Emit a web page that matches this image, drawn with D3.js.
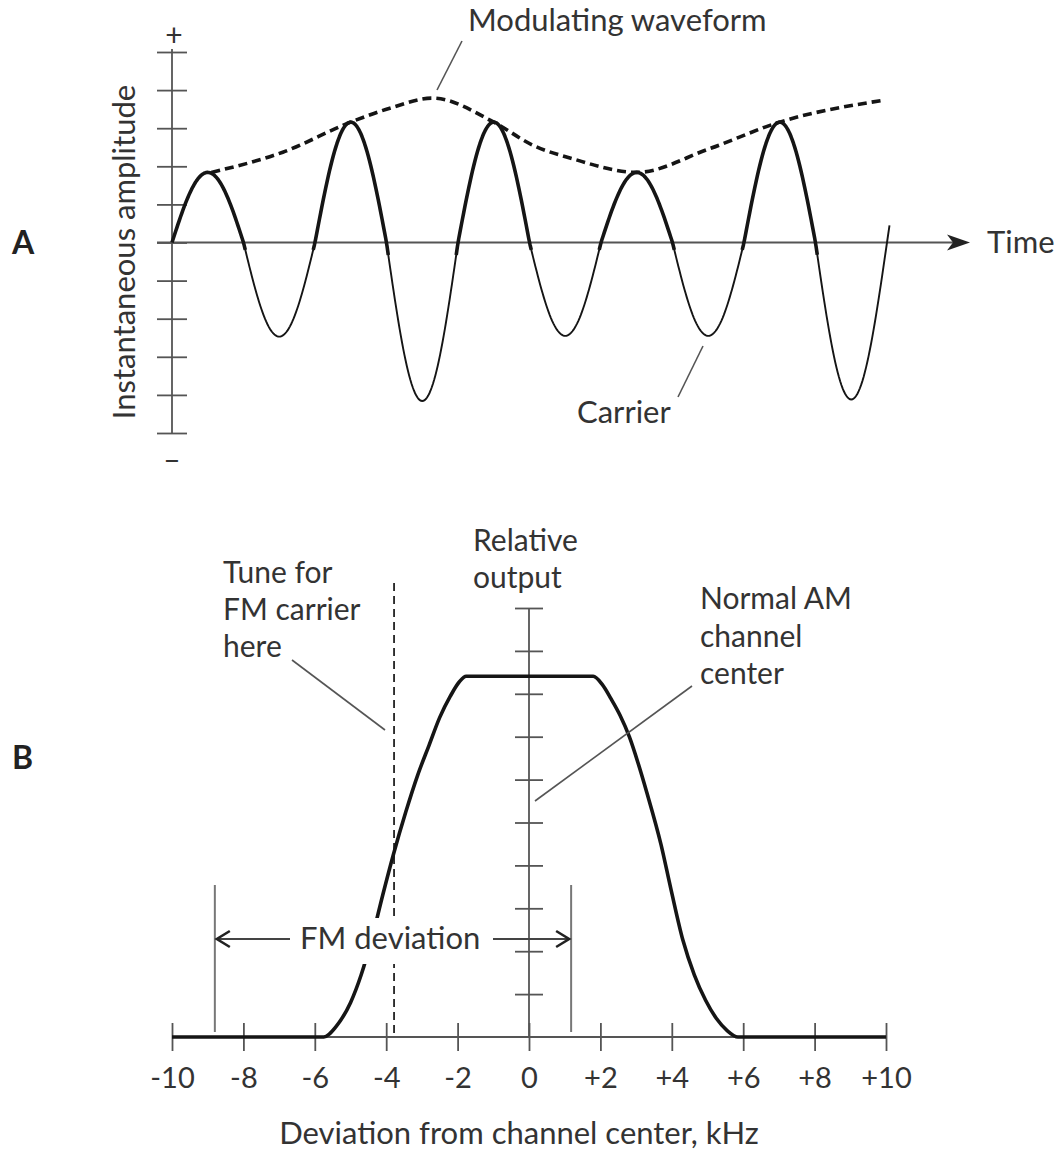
<!DOCTYPE html>
<html>
<head>
<meta charset="utf-8">
<script src="https://cdn.jsdelivr.net/npm/d3@7"></script>
<style>
  body { margin: 0; background: #fff; }
  svg text { font-family: Lato, "Open Sans", sans-serif; fill: #333; }
</style>
</head>
<body>
<svg id="chart" width="1057" height="1152"></svg>
<script>
// ---------------- DATA ----------------
// Panel A: carrier half-cycle amplitudes (in axis tick units), time in half-cycles
const carrierAmps = [1.84, -2.47, 3.16, -4.16, 3.16, -2.45, 1.84, -2.45, 3.16, -4.12];
// Modulating waveform (envelope) read points
const envTime = [0.55, 1.55, 2.5, 3.09, 3.64, 4.5, 5.05, 5.6, 6.5, 7.5, 8.5, 9.97];
const envAmp  = [1.84, 2.37, 3.16, 3.55, 3.79, 3.16, 2.55, 2.2, 1.84, 2.45, 3.16, 3.74];
const ampTicks = [-5, -4, -3, -2, -1, 0, 1, 2, 3, 4, 5];

// Panel B: receiver response vs deviation from channel center (kHz)
const respKHz   = [-10, -5.75, -5.4, -5.0, -4.7, -4.4, -4.1, -3.8, -3.45, -3.12, -2.8, -2.5, -2.2, -1.95, -1.76,
                   1.80, 2.05, 2.30, 2.55, 2.81, 3.05, 3.30, 3.70, 3.98, 4.31, 4.63, 4.95, 5.25, 5.55, 5.85, 10];
const respLevel = [0, 0, 0.25, 0.8, 1.45, 2.3, 3.3, 4.25, 5.25, 6.1, 6.8, 7.45, 7.95, 8.28, 8.41,
                   8.41, 8.22, 7.88, 7.5, 7.0, 6.4, 5.7, 4.48, 3.43, 2.26, 1.45, 0.85, 0.43, 0.15, 0, 0];
const xTickValues = [-10, -8, -6, -4, -2, 0, 2, 4, 6, 8, 10];
const xTickLabels = ["-10", "-8", "-6", "-4", "-2", "0", "+2", "+4", "+6", "+8", "+10"];
const outputTicks = [1, 2, 3, 4, 5, 6, 7, 8, 9, 10];
const tuneKHz = -3.78;
const fmDeviationKHz = [-8.8, 1.18];

// ---------------- DRAW ----------------
const svg = d3.select("#chart");
const AXIS = "#555", INK = "#151515", LEAD = "#555";
const FS = "30px", FS1 = "31px";

// ===== Panel A =====
const xA = d3.scaleLinear().domain([0, 10]).range([172, 887]);
const yA = d3.scaleLinear().domain([-5, 5]).range([433, 52]);
const gA = svg.append("g");

const axA = d3.axisLeft(yA).tickValues(ampTicks).tickSize(15).tickFormat("");
const gAy = gA.append("g").attr("transform", `translate(${xA(0)},0)`).call(axA);
gAy.select(".domain").remove();
gAy.selectAll(".tick line").attr("x1", 15).attr("stroke", AXIS).attr("stroke-width", 1.8);
gA.append("line").attr("x1", xA(0)).attr("x2", xA(0)).attr("y1", yA(5) - 3).attr("y2", yA(-5))
  .attr("stroke", AXIS).attr("stroke-width", 1.8);

// time axis with arrow
gA.append("line").attr("x1", xA(0) - 15).attr("x2", 955).attr("y1", yA(0)).attr("y2", yA(0))
  .attr("stroke", AXIS).attr("stroke-width", 1.8);
gA.append("path").attr("d", `M970,${yA(0)} L947,${yA(0)-8} L953,${yA(0)} L947,${yA(0)+8} Z`).attr("fill", "#222");

// carrier
function carrierAt(t) {
  const i = Math.min(carrierAmps.length - 1, Math.max(0, Math.floor(t)));
  return carrierAmps[i] * Math.sin(Math.PI * (t - i));
}
function samples(t0, t1) {
  const n = 60, pts = [];
  for (let k = 0; k <= n; k++) { const t = t0 + (t1 - t0) * k / n; pts.push([t, carrierAt(t)]); }
  return pts;
}
const lineA = d3.line().x(d => xA(d[0])).y(d => yA(d[1]));
carrierAmps.forEach((a, i) => {
  if (a < 0) {
    const t1 = (i === carrierAmps.length - 1) ? i + 1.035 : i + 1;
    gA.append("path").attr("d", lineA(samples(i, t1))).attr("fill", "none")
      .attr("stroke", INK).attr("stroke-width", 1.9);
  }
});
carrierAmps.forEach((a, i) => {
  if (a > 0) {
    const t0 = i === 0 ? 0 : i - 0.025;
    gA.append("path").attr("d", lineA(samples(t0, i + 1.025))).attr("fill", "none")
      .attr("stroke", INK).attr("stroke-width", 3.6).attr("stroke-linejoin", "round");
  }
});

// modulating waveform
const envLine = d3.line().x((d, i) => xA(envTime[i])).y(d => yA(d)).curve(d3.curveMonotoneX);
gA.append("path").attr("d", envLine(envAmp)).attr("fill", "none").attr("stroke", INK)
  .attr("stroke-width", 3.6).attr("stroke-dasharray", "9,5");

// labels A
gA.append("text").attr("x", 12).attr("y", 254).style("font-size", "32px").style("font-weight", "bold").style("fill", "#222").text("A");
gA.append("text").attr("x", xA(0) + 2).attr("y", 34).attr("text-anchor", "middle").attr("dominant-baseline", "central").style("font-size", "30px").text("+");
gA.append("text").attr("x", xA(0)).attr("y", 458).attr("text-anchor", "middle").attr("dominant-baseline", "central").style("font-size", "30px").text("–");
gA.append("text").attr("transform", "translate(135,252) rotate(-90)").attr("text-anchor", "middle")
  .style("font-size", FS1).text("Instantaneous amplitude");
gA.append("text").attr("x", 468).attr("y", 31).style("font-size", FS1).text("Modulating waveform");
gA.append("line").attr("x1", 462).attr("y1", 41).attr("x2", 437).attr("y2", 90).attr("stroke", LEAD).attr("stroke-width", 1.6);
gA.append("text").attr("x", 987).attr("y", 253).style("font-size", FS1).text("Time");
gA.append("text").attr("x", 577).attr("y", 423).style("font-size", FS1).text("Carrier");
gA.append("line").attr("x1", 703).attr("y1", 346).attr("x2", 678).attr("y2", 397).attr("stroke", LEAD).attr("stroke-width", 1.6);

// ===== Panel B =====
const xB = d3.scaleLinear().domain([-10, 10]).range([172, 886]);
const yB = d3.scaleLinear().domain([0, 10]).range([1037, 608]);
const gB = svg.append("g");

const axBx = d3.axisBottom(xB).tickValues(xTickValues).tickSize(14).tickFormat((d, i) => xTickLabels[i]);
const gBx = gB.append("g").attr("transform", `translate(0,${yB(0)})`).call(axBx);
gBx.select(".domain").remove();
gBx.selectAll(".tick line").attr("y1", -14).attr("stroke", AXIS).attr("stroke-width", 1.8);
gBx.selectAll(".tick text").attr("y", 51).attr("dy", 0)
  .style("font-size", "29px").style("font-family", "Lato, sans-serif").attr("fill", "#333");
gB.append("line").attr("x1", xB(-10)).attr("x2", xB(10)).attr("y1", yB(0)).attr("y2", yB(0))
  .attr("stroke", AXIS).attr("stroke-width", 1.8);

const axBy = d3.axisLeft(yB).tickValues(outputTicks).tickSize(14).tickFormat("");
const gBy = gB.append("g").attr("transform", `translate(${xB(0)},0)`).call(axBy);
gBy.select(".domain").remove();
gBy.selectAll(".tick line").attr("x1", 14).attr("stroke", AXIS).attr("stroke-width", 1.8);
gB.append("line").attr("x1", xB(0)).attr("x2", xB(0)).attr("y1", yB(10)).attr("y2", yB(0))
  .attr("stroke", AXIS).attr("stroke-width", 1.8);

// FM deviation limit lines
fmDeviationKHz.forEach(k => {
  gB.append("line").attr("x1", xB(k)).attr("x2", xB(k)).attr("y1", 885).attr("y2", 1032)
    .attr("stroke", "#777").attr("stroke-width", 2);
});

// tune line (dashed)
gB.append("line").attr("x1", xB(tuneKHz)).attr("x2", xB(tuneKHz)).attr("y1", 583).attr("y2", yB(0))
  .attr("stroke", "#222").attr("stroke-width", 1.8).attr("stroke-dasharray", "8,5");

// response curve
const respLine = d3.line().x((d, i) => xB(respKHz[i])).y(d => yB(d)).curve(d3.curveMonotoneX);
gB.append("path").attr("d", respLine(respLevel)).attr("fill", "none").attr("stroke", INK)
  .attr("stroke-width", 3.6).attr("stroke-linejoin", "round");

// FM deviation label with knockout
gB.append("rect").attr("x", 295).attr("y", 918).attr("width", 186).attr("height", 46).attr("fill", "#fff");
gB.append("text").attr("x", 300).attr("y", 949).style("font-size", FS1).text("FM deviation");
gB.append("line").attr("x1", xB(fmDeviationKHz[0]) + 1).attr("x2", 290).attr("y1", 939).attr("y2", 939).attr("stroke", "#444").attr("stroke-width", 1.8);
gB.append("line").attr("x1", 493).attr("x2", xB(fmDeviationKHz[1]) - 1).attr("y1", 939).attr("y2", 939).attr("stroke", "#444").attr("stroke-width", 1.8);
const lx = xB(fmDeviationKHz[0]) + 2, rx = xB(fmDeviationKHz[1]) - 2;
gB.append("path").attr("d", `M${lx + 13},931 L${lx},939 L${lx + 13},947`).attr("fill", "none").attr("stroke", "#222").attr("stroke-width", 2.6);
gB.append("path").attr("d", `M${rx - 13},931 L${rx},939 L${rx - 13},947`).attr("fill", "none").attr("stroke", "#222").attr("stroke-width", 2.6);

// text annotations B
function multiline(x, ys, lines) {
  lines.forEach((s, i) => gB.append("text").attr("x", x).attr("y", ys[i]).style("font-size", FS).text(s));
}
multiline(223, [583, 620, 657], ["Tune for", "FM carrier", "here"]);
gB.append("line").attr("x1", 292).attr("y1", 660).attr("x2", 385).attr("y2", 730).attr("stroke", LEAD).attr("stroke-width", 1.6);
multiline(473, [551, 588], ["Relative", "output"]);
multiline(700, [609, 647, 684], ["Normal AM", "channel", "center"]);
gB.append("line").attr("x1", 692).attr("y1", 686).attr("x2", 535).attr("y2", 801).attr("stroke", LEAD).attr("stroke-width", 1.6);
gB.append("text").attr("x", 519).attr("y", 1144).attr("text-anchor", "middle").style("font-size", FS1)
  .text("Deviation from channel center, kHz");
gB.append("text").attr("x", 12).attr("y", 769).style("font-size", "32px").style("font-weight", "bold").style("fill", "#222").text("B");
</script>
</body>
</html>
